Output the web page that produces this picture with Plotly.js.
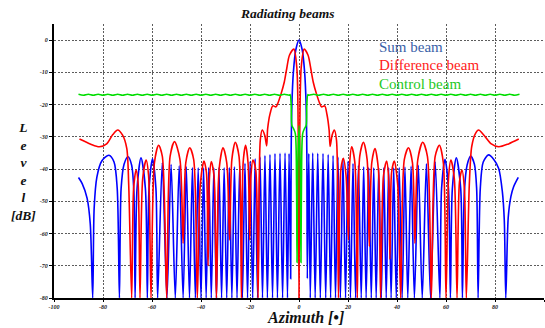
<!DOCTYPE html>
<html>
<head>
<meta charset="utf-8">
<script src="https://cdn.plot.ly/plotly-3.0.1.min.js"></script>
<style>html,body{margin:0;padding:0;background:#fff}#chart{width:545px;height:328px}</style>
</head>
<body>
<div id="chart"></div>
<script>
// ---- Sum beam (blue) ----
const sumAz = [-90,-88.5,-86.5,-85.2,-84.2,
 -83.6,-82.5,-80.5,-77.6,-75.5,-74.2,-73.3,
 -72.6,-71.4,-69.8,-68.3,-67.4,-66.9,
 -66.1,-64.5,-62.7,-61.9,
 -61.2,-59.8,-58.4,-57.7,
 -55.8,-53.9,-52.2,-50.5,-48.9,-47.3,-46.0,-44.7,-43.5,-42.3,-41.15,-40.0,
 -38.95,-37.9,-36.85,-35.8,-34.75,-33.7,-32.65,-31.6,-30.55,-29.5,-28.45,-27.4,
 -26.35,-25.3,-24.2,-23.1,-22.05,-21.0,-19.95,-18.9,-17.9,-16.9,-15.9,-14.9,
 -13.9,-12.9,-11.85,-10.8,-9.8,-8.8,-7.75,-6.7,-5.7,-4.7,-4.05,-3.4,
 -3.2,-2.9,-2.3,-1.3,0,1.3,2.3,2.9,3.2,3.4,
 4.0,4.6,5.6,6.6,7.65,8.7,9.8,10.9,11.9,12.9,13.9,14.9,15.9,16.9,17.95,19.0,
 20.0,21.0,22.05,23.1,24.25,25.4,26.4,27.4,28.45,29.5,30.5,31.5,32.55,33.6,
 34.6,35.6,36.6,37.6,38.65,39.7,40.9,42.1,43.25,44.4,45.75,47.1,48.7,50.3,
 52.0,53.7,55.6,57.5,
 58.2,59.6,61.0,61.8,
 62.6,64.2,66.0,66.7,
 67.5,68.6,70.1,71.6,72.5,73.1,
 74.0,75.2,77.4,79.5,81.5,83.0,83.8,84.4,
 85.4,86.5,87.6,89.5];
const sumDb = [-42.6,-44.5,-49,-57,-80,
 -52,-42.5,-37.5,-35.7,-37.8,-46,-80,
 -46,-38.5,-36.2,-38.8,-47,-80,
 -46,-36.5,-46,-80,
 -46,-36.8,-46,-80,
 -38.0,-80,-38.6,-80,-39.0,-80,-39.3,-80,-39.5,-80,-39.6,-80,
 -39.6,-80,-39.5,-80,-39.6,-80,-39.5,-80,-39.6,-80,-39.5,-80,
 -39.3,-80,-38.8,-80,-38.2,-80,-37.6,-80,-36.8,-80,-36.3,-80,
 -35.8,-80,-35.5,-80,-35.2,-80,-35.1,-80,-35.0,-80,-35.2,-74,
 -35,-20,-10,-3,0,-3,-10,-20,-35,-74,
 -35.2,-80,-35.0,-80,-35.1,-80,-35.2,-80,-35.5,-80,-35.8,-80,-36.3,-80,-36.9,-80,
 -37.6,-80,-38.3,-80,-38.8,-80,-39.3,-80,-39.5,-80,-39.6,-80,-39.5,-80,
 -39.6,-80,-39.5,-80,-39.6,-80,-39.5,-80,-39.4,-80,-39.1,-80,-38.8,-80,
 -38.4,-80,-37.8,-80,
 -46,-37.0,-46,-80,
 -46,-36.5,-46,-80,
 -47,-38.8,-36.0,-38.5,-46,-80,
 -46,-37.8,-35.6,-37.0,-39.8,-47,-56,-80,
 -55,-48.5,-45.5,-42.6];

// ---- Difference beam (red) ----
const diffAz = [-89.6,-85,-81.5,-78.5,-76,-74,-72,-70.3,-69.5,-68.3,
 -67.5,-66.5,-65.7,-64.9,-63.8,-62.4,-61.4,-60.4,-59.0,-57.3,-55.8,-54.0,
 -52.6,-50.8,-48.6,-47.3,-46.2,-44.6,-43,-41.5,-40.3,-38.8,-37.8,-37.1,-36.5,-35.8,
 -34.7,-33.7,-32.6,-31.0,-29.5,-28.3,-27.4,-26.0,-24.5,-23.5,-22.8,-21.8,-20.8,-20.1,
 -19.6,-18.8,-17.7,-16.7,-15.8,-15.0,-14.0,-13.2,-12.8,-11.8,-10.7,-9.4,-8.7,-7.3,
 -6.0,-5.0,-3.9,-2.1,-0.9,-0.3,0,0.3,0.9,2.1,3.7,4.8,5.8,7.1,8.5,9.2,10.5,11.4,
 12.3,12.7,13.5,14.4,15.3,16.1,17.1,18.1,19.2,20.2,20.7,21.5,22.8,23.8,24.8,26.3,
 27.8,28.7,29.7,31.0,32.4,33.3,34.5,35.8,36.5,37.1,37.8,38.9,40.3,41.5,43,44.7,
 46.3,47.3,48.5,50.5,52.4,54.0,55.6,57.3,58.9,60.0,61.1,62.0,63.4,64.5,65.5,66.5,
 67.5,68.3,69.5,70.5,72,73.3,75.5,78.5,81.5,85.5,89.7];
const diffDb = [-30.7,-32.3,-33.1,-32.2,-29.3,-27.9,-29.5,-33.6,-45,-80,
 -46,-40.3,-44,-80,-43,-37.2,-42,-80,-38,-32.6,-36,-80,
 -36,-31.5,-37,-63,-38,-33.4,-37,-80,-45,-37.5,-41,-70,-42,-37.7,
 -42,-80,-40,-33.4,-38,-62,-37,-31.7,-36,-80,-38,-32.6,-38,-62,
 -42,-37.2,-40,-80,-31,-27.9,-29.5,-32.8,-27.5,-22.8,-20.4,-20.7,-19.7,-16.6,
 -13,-8.8,-4.7,-2.8,-8.5,-30,-80,-30,-8.5,-2.8,-4.7,-8.8,-13,-16.6,-19.7,-20.7,-20.4,-23,
 -28,-33,-29.5,-27.9,-31,-80,-40,-36.7,-42,-62,-38,-33.1,-38,-80,-36,-31.7,
 -37,-64,-38,-33.6,-40,-80,-42,-37.5,-42,-68,-41,-37.5,-45,-80,-37,-33.4,
 -38,-63,-37,-31.7,-36,-80,-36,-32.6,-38,-80,-42,-37.2,-43,-80,-44,-40.3,
 -46,-80,-45,-33,-29,-27.9,-29.5,-32.2,-33.1,-32.2,-30.7];

// ---- Control beam (green) ----
const ctrlAz = [-90,-88,-86,-84,-82,-80,-78,-76,-74,-72,-70,-68,-66,-64,-62,-60,-58,-56,-54,-52,
 -50,-48,-46,-44,-42,-40,-38,-36,-34,-32,-30,-28,-26,-24,-22,-20,-18,-16,-14,-12,-10,-8,-6,-4,
 -3.6,-3.2,-2.9,-2.2,-1.5,-1.0,-0.8,-0.5,0,0.5,0.8,1.0,1.5,2.2,2.9,3.2,3.6,
 4,6,8,10,12,14,16,18,20,22,24,26,28,30,32,34,36,38,40,42,44,46,48,50,52,54,56,58,60,
 62,64,66,68,70,72,74,76,78,80,82,84,86,88,90];
const ctrlDb = [-16.8,-17.1,-16.8,-17.1,-16.8,-17.1,-16.8,-17.1,-16.8,-17.1,-16.8,-17.1,-16.8,-17.1,-16.8,-17.1,-16.8,-17.1,-16.8,-17.1,
 -16.8,-17.1,-16.8,-17.1,-16.8,-17.1,-16.8,-17.1,-16.8,-17.1,-16.8,-17.1,-16.8,-17.1,-16.8,-17.1,-16.8,-17.1,-16.8,-17.1,-16.8,-17.1,-16.8,-17.1,
 -16.9,-20,-26.5,-27.5,-29,-45,-69,-40,-26.5,-40,-69,-45,-29,-27.5,-26.5,-20,-16.9,
 -17.1,-16.8,-17.1,-16.8,-17.1,-16.8,-17.1,-16.8,-17.1,-16.8,-17.1,-16.8,-17.1,-16.8,-17.1,-16.8,-17.1,-16.8,-17.1,-16.8,-17.1,-16.8,-17.1,-16.8,-17.1,-16.8,-17.1,-16.8,-17.1,-16.8,
 -17.1,-16.8,-17.1,-16.8,-17.1,-16.8,-17.1,-16.8,-17.1,-16.8,-17.1,-16.8,-17.1,-16.8,-17.1];

const xTicks = [-100,-80,-60,-40,-20,0,20,40,60,80,100];
const yTicks = [0,-10,-20,-30,-40,-50,-60,-70,-80];
const seriesNames = ['Sum beam','Difference beam','Control beam'];

const serif = 'Liberation Serif, Times New Roman, serif';
const tickFont = {family: serif, size: 6, weight: 'bold', style: 'italic', color: '#222'};

const traces = [
  {x: sumAz, y: sumDb, mode: 'lines', line: {color: '#0000ff', width: 1.6, shape: 'spline', smoothing: 0.8}, name: seriesNames[0]},
  {x: diffAz, y: diffDb, mode: 'lines', line: {color: '#ff0000', width: 1.6, shape: 'spline', smoothing: 0.8}, name: seriesNames[1]},
  {x: ctrlAz, y: ctrlDb, mode: 'lines', line: {color: '#00dd00', width: 1.6, shape: 'spline', smoothing: 0.8}, name: seriesNames[2]}
];

const layout = {
  width: 545, height: 328,
  margin: {l: 54, r: 1, t: 24, b: 30},
  paper_bgcolor: '#ffffff', plot_bgcolor: '#ffffff',
  showlegend: false,
  title: {text: 'Radiating beams', x: 0.528, xref: 'container', xanchor: 'center', y: 0.96, yref: 'container', yanchor: 'middle',
          font: {family: serif, size: 13.5, weight: 'bold', style: 'italic', color: '#111'}},
  xaxis: {range: [-100, 100], tickvals: xTicks, ticktext: xTicks.map(String),
          showgrid: true, gridcolor: '#333', griddash: '2px,1.5px', gridwidth: 0.8,
          zeroline: false, showline: true, linecolor: '#000', linewidth: 2,
          ticks: 'outside', ticklen: 2, tickcolor: '#000', tickfont: tickFont},
  yaxis: {range: [-80, 5], tickvals: yTicks, ticktext: yTicks.map(String),
          showgrid: true, gridcolor: '#333', griddash: '2px,1.5px', gridwidth: 0.8,
          zeroline: false, showline: true, linecolor: '#000', linewidth: 2,
          ticks: 'outside', ticklen: 3, tickcolor: '#000', tickfont: tickFont},
  annotations: [
    {text: 'Azimuth [•]', xref: 'paper', yref: 'paper', x: 0.514, y: -0.072, xanchor: 'center', yanchor: 'middle', showarrow: false,
     font: {family: serif, size: 16, weight: 'bold', style: 'italic', color: '#111'}},
    {text: 'L<br>e<br>v<br>e<br>l<br>[dB]', xref: 'paper', yref: 'paper', x: -0.063, y: 0.46, xanchor: 'center', yanchor: 'middle', showarrow: false, align: 'center',
     font: {family: serif, size: 13.5, weight: 'bold', style: 'italic', color: '#111'}},
    {text: seriesNames[0], xref: 'paper', yref: 'paper', x: 0.659, y: 0.916, xanchor: 'left', yanchor: 'middle', showarrow: false,
     font: {family: serif, size: 15, color: '#3a5fa8'}},
    {text: seriesNames[1], xref: 'paper', yref: 'paper', x: 0.659, y: 0.850, xanchor: 'left', yanchor: 'middle', showarrow: false,
     font: {family: serif, size: 15, color: '#ff1a1a'}},
    {text: seriesNames[2], xref: 'paper', yref: 'paper', x: 0.659, y: 0.780, xanchor: 'left', yanchor: 'middle', showarrow: false,
     font: {family: serif, size: 15, color: '#1ec81e'}}
  ]
};

Plotly.newPlot('chart', traces, layout, {displayModeBar: false, staticPlot: true});
</script>
</body>
</html>
